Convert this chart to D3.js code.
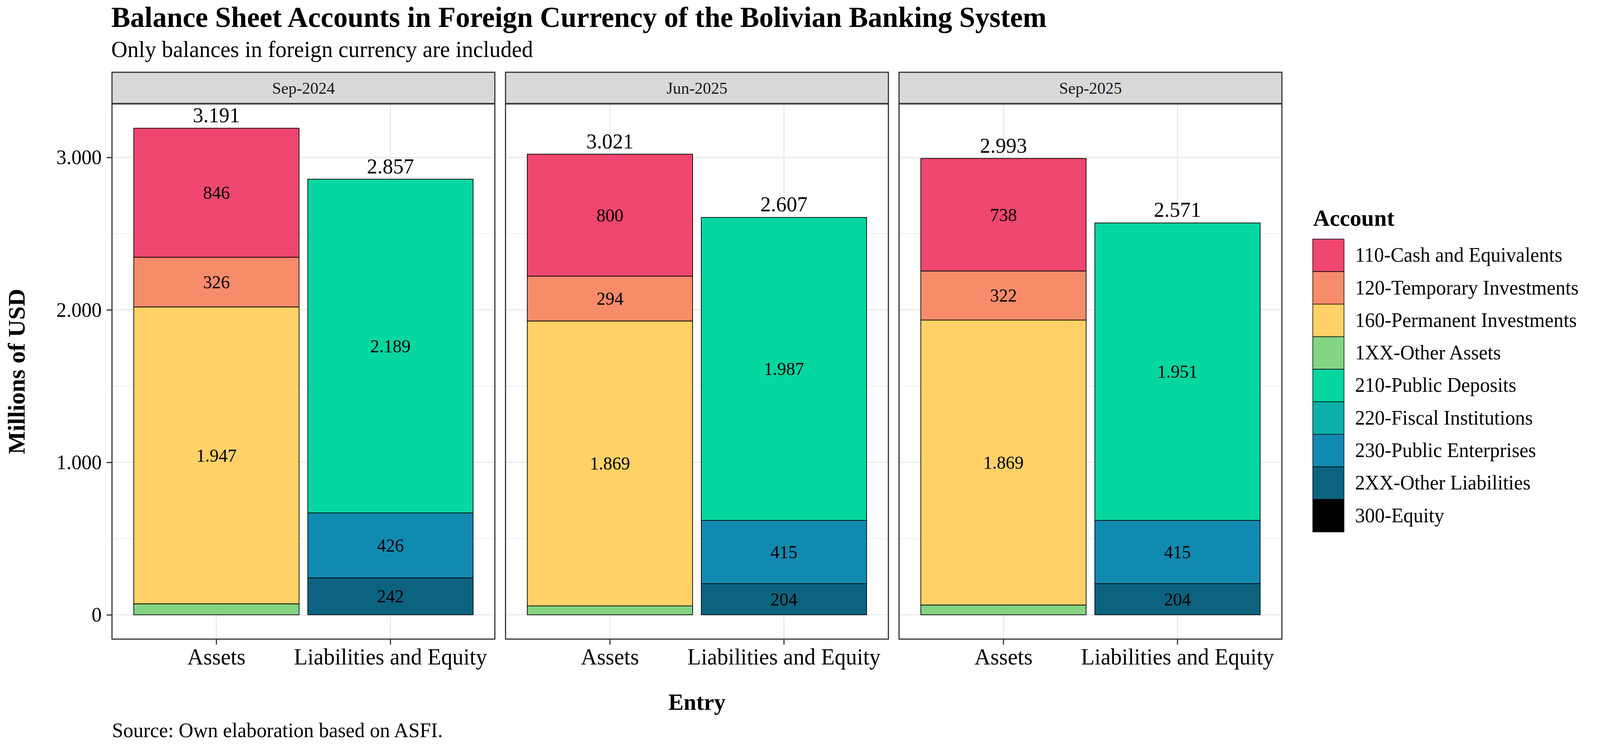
<!DOCTYPE html>
<html>
<head>
<meta charset="utf-8">
<script src="https://cdn.jsdelivr.net/npm/d3@7"></script>
<style>
  html, body { margin: 0; padding: 0; background: #fff; overflow: hidden; }
  svg { display: block; }
  text { font-family: "Liberation Serif", serif; }
</style>
</head>
<body>
<div id="chart"></div>
<script>
const width = 4200, height = 1925;

// facets, x categories and fill legend
const periods = ["Sep-2024", "Jun-2025", "Sep-2025"];
const entries = ["Assets", "Liabilities and Equity"];
const accounts = ["110-Cash and Equivalents", "120-Temporary Investments", "160-Permanent Investments",
                  "1XX-Other Assets", "210-Public Deposits", "220-Fiscal Institutions",
                  "230-Public Enterprises", "2XX-Other Liabilities", "300-Equity"];
const accountColors = ["#EF476F", "#F78C6B", "#FFD166", "#83D483", "#06D6A0",
                       "#0CB0A9", "#118AB2", "#0C637F", "#000000"];

// millions of USD, one value per period (Sep-2024, Jun-2025, Sep-2025)
const cash110   = [846, 800, 738];
const temp120   = [326, 294, 322];
const perm160   = [1947, 1869, 1869];
const other1XX  = [72, 58, 64];
const pubDep210 = [2189, 1987, 1951];
const fiscal220 = [0, 0, 0];
const pubEnt230 = [426, 415, 415];
const other2XX  = [242, 204, 204];
const equity300 = [0, 0, 0];
// bar totals as printed on top
const assetTotals = [3191, 3021, 2993];
const liabTotals  = [2857, 2607, 2571];

const assetSeries = [cash110, temp120, perm160, other1XX];
const liabSeries = [pubDep210, fiscal220, pubEnt230, other2XX, equity300];
const allSeries = assetSeries.concat(liabSeries);
const yTicks = [0, 1000, 2000, 3000];
const labelMin = 100; // small segments get no label

// build one row per (period, entry)
const rows = [];
periods.forEach((p, i) => {
  entries.forEach((e, j) => {
    const row = { period: p, entry: e, total: j === 0 ? assetTotals[i] : liabTotals[i] };
    accounts.forEach((a, k) => {
      const isAsset = k < assetSeries.length;
      row[a] = (j === 0) === isAsset ? allSeries[k][i] : 0;
    });
    rows.push(row);
  });
});

const fmt = d3.formatLocale({ decimal: ",", thousands: ".", grouping: [3], currency: ["", ""] }).format(",.0f");

// layout
const panelTop = 266, panelBottom = 1636, panelLeft = 294, panelW = 1005, panelGap = 28;
const stripTop = 185, stripH = 80;

// viewBox so the whole figure fits the window whatever its exact size
const svg = d3.select("#chart").append("svg")
  .attr("viewBox", `0 0 ${width} ${height}`)
  .attr("preserveAspectRatio", "none")
  .style("width", "100vw").style("height", "100vh")
  .style("background", "#fff");

const maxTotal = d3.max(rows, d => d.total);
const pad = maxTotal * 0.05;
const y = d3.scaleLinear().domain([-pad, maxTotal + pad]).range([panelBottom, panelTop]);

const stack = d3.stack().keys(accounts.slice().reverse());
const color = d3.scaleOrdinal().domain(accounts).range(accountColors);

periods.forEach((p, i) => {
  const x0 = panelLeft + i * (panelW + panelGap);
  const x = d3.scaleBand().domain(entries).range([x0, x0 + panelW])
    .paddingInner(0.05).paddingOuter(0.125);
  const panelRows = rows.filter(d => d.period === p);
  const stacked = stack(panelRows);

  const g = svg.append("g");

  // grid
  const minor = yTicks.slice(0, -1).map((t, k) => (t + yTicks[k + 1]) / 2);
  g.selectAll(".minor").data(minor).enter().append("line")
    .attr("x1", x0).attr("x2", x0 + panelW)
    .attr("y1", d => y(d)).attr("y2", d => y(d))
    .attr("stroke", "#EBEBEB").attr("stroke-width", 1.6);
  g.selectAll(".major").data(yTicks).enter().append("line")
    .attr("x1", x0).attr("x2", x0 + panelW)
    .attr("y1", d => y(d)).attr("y2", d => y(d))
    .attr("stroke", "#EBEBEB").attr("stroke-width", 3.2);
  g.selectAll(".vgrid").data(entries).enter().append("line")
    .attr("x1", d => x(d) + x.bandwidth() / 2).attr("x2", d => x(d) + x.bandwidth() / 2)
    .attr("y1", panelTop).attr("y2", panelBottom)
    .attr("stroke", "#EBEBEB").attr("stroke-width", 3.2);

  // stacked bars
  stacked.forEach(layer => {
    g.selectAll(null).data(layer.filter(d => d[1] - d[0] > 0)).enter().append("rect")
      .attr("x", d => x(d.data.entry))
      .attr("width", x.bandwidth())
      .attr("y", d => y(d[1]))
      .attr("height", d => y(d[0]) - y(d[1]))
      .attr("fill", color(layer.key))
      .attr("stroke", "#000").attr("stroke-width", 1.8);
  });

  // segment labels
  stacked.forEach(layer => {
    g.selectAll(null).data(layer.filter(d => d[1] - d[0] >= labelMin)).enter().append("text")
      .attr("x", d => x(d.data.entry) + x.bandwidth() / 2)
      .attr("y", d => y((d[0] + d[1]) / 2))
      .attr("dy", "0.34em")
      .attr("text-anchor", "middle")
      .attr("font-size", 47)
      .text(d => fmt(d[1] - d[0]));
  });

  // totals on top
  g.selectAll(".total").data(panelRows).enter().append("text")
    .attr("x", d => x(d.entry) + x.bandwidth() / 2)
    .attr("y", d => y(d.total) - 15)
    .attr("text-anchor", "middle")
    .attr("font-size", 55)
    .text(d => fmt(d.total));

  // panel border
  g.append("rect")
    .attr("x", x0).attr("y", panelTop).attr("width", panelW).attr("height", panelBottom - panelTop)
    .attr("fill", "none").attr("stroke", "#333333").attr("stroke-width", 3);

  // strip
  g.append("rect")
    .attr("x", x0).attr("y", stripTop).attr("width", panelW).attr("height", stripH)
    .attr("fill", "#D9D9D9").attr("stroke", "#333333").attr("stroke-width", 3);
  g.append("text")
    .attr("x", x0 + panelW / 2).attr("y", stripTop + stripH / 2)
    .attr("dy", "0.35em").attr("text-anchor", "middle")
    .attr("font-size", 43).attr("fill", "#1A1A1A")
    .text(p);

  // x axis
  const xAxis = svg.append("g")
    .attr("transform", `translate(0,${panelBottom})`)
    .call(d3.axisBottom(x).tickSize(14).tickPadding(9));
  xAxis.select(".domain").remove();
  xAxis.selectAll(".tick line").attr("stroke", "#333333").attr("stroke-width", 3);
  xAxis.selectAll(".tick text").attr("font-size", 58.5).attr("fill", "#000")
    .attr("font-family", "Liberation Serif");

  // y axis only on the first panel
  if (i === 0) {
    const yAxis = svg.append("g")
      .attr("transform", `translate(${x0},0)`)
      .call(d3.axisLeft(y).tickValues(yTicks).tickFormat(fmt).tickSize(14).tickPadding(13));
    yAxis.select(".domain").remove();
    yAxis.selectAll(".tick line").attr("stroke", "#333333").attr("stroke-width", 3);
    yAxis.selectAll(".tick text").attr("font-size", 53).attr("fill", "#000")
      .attr("font-family", "Liberation Serif");
  }
});

// titles
svg.append("text").attr("x", 292).attr("y", 69)
  .attr("font-size", 75).attr("font-weight", "bold")
  .text("Balance Sheet Accounts in Foreign Currency of the Bolivian Banking System");
svg.append("text").attr("x", 292).attr("y", 146)
  .attr("font-size", 59)
  .text("Only balances in foreign currency are included");
svg.append("text").attr("x", 294).attr("y", 1887)
  .attr("font-size", 53)
  .text("Source: Own elaboration based on ASFI.");

// axis titles
const panelsRight = panelLeft + periods.length * panelW + (periods.length - 1) * panelGap;
svg.append("text").attr("x", (panelLeft + panelsRight) / 2).attr("y", 1817)
  .attr("text-anchor", "middle").attr("font-size", 60).attr("font-weight", "bold")
  .text("Entry");
svg.append("text")
  .attr("transform", `translate(65,${(panelTop + panelBottom) / 2}) rotate(-90)`)
  .attr("text-anchor", "middle").attr("font-size", 62).attr("font-weight", "bold")
  .text("Millions of USD");

// legend
const legend = svg.append("g").attr("transform", "translate(3446,612)");
const keySize = 83.3;
legend.append("text").attr("x", 1).attr("y", -34)
  .attr("font-size", 60).attr("font-weight", "bold")
  .text("Account");
const item = legend.selectAll(".item").data(accounts).enter().append("g")
  .attr("transform", (d, k) => `translate(0,${k * keySize})`);
item.append("rect")
  .attr("width", 82).attr("height", keySize)
  .attr("fill", d => color(d))
  .attr("stroke", "#000").attr("stroke-width", 1.5);
item.append("text")
  .attr("x", 111).attr("y", keySize / 2).attr("dy", "0.32em")
  .attr("font-size", 52)
  .text(d => d);
</script>
</body>
</html>
